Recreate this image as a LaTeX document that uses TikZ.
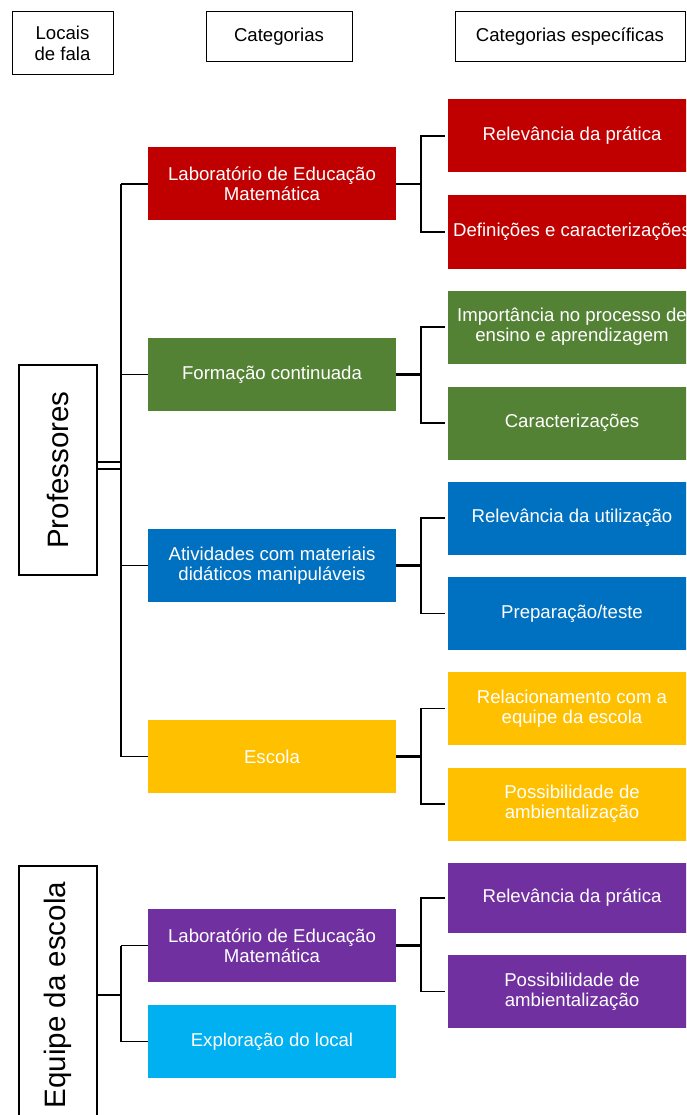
\documentclass[tikz,border=0pt]{standalone}
\usepackage{fontspec}
\setmainfont{Liberation Sans}
\usetikzlibrary{positioning}
\definecolor{cvermelho}{HTML}{C00000}
\definecolor{cverde}{HTML}{548235}
\definecolor{cazul}{HTML}{0070C0}
\definecolor{camarelo}{HTML}{FFC000}
\definecolor{croxo}{HTML}{7030A0}
\definecolor{cciano}{HTML}{00B0F0}
\tikzset{
  cabec/.style={draw, line width=1pt, align=center, inner sep=0pt,
    font=\fontsize{18.6}{21}\selectfont},
  local/.style={draw, line width=1.8pt, rotate=90, inner sep=0pt,
    minimum height=78pt, font=\fontsize{29.5}{32}\selectfont},
  caixa/.style={fill=#1, text=white, align=center, inner sep=0pt,
    minimum width=248pt, minimum height=73pt,
    font=\fontsize{18.6}{20}\selectfont},
  liga/.style={line width=1.5pt},
  tronco/.style={line width=2.3pt},
}
\begin{document}
\begin{tikzpicture}[x=1pt,y=-1pt]
        \useasboundingbox (0,0) rectangle (686,1115);
        \clip (0,0) rectangle (686,1115);
        % 标题框
        \node[cabec, minimum width=101pt, minimum height=63pt] (hloc) at (62.5,43.5) {Locais\\de fala};
        \node[cabec, minimum width=146pt, minimum height=50pt] (hcat) at (279,37) {Categorias};
        \node[cabec, minimum width=230pt, minimum height=50pt] (hesp) at (570,37) {Categorias específicas};
        % 左侧框
        \node[local, minimum width=210pt] (prof) at (58,470) {Professores};
        \node[local, minimum width=258pt] (equi) at (58,995) {Equipe da escola};
        % 分类
        \node[caixa=cvermelho] (lem) at (272,184) {Laboratório de Educação\\Matemática};
        \node[caixa=cverde] (form) at (272,374.5) {Formação continuada};
        \node[caixa=cazul] (ativ) at (272,565.5) {Atividades com materiais\\didáticos manipuláveis};
        \node[caixa=camarelo] (esc) at (272,756.5) {Escola};
        \node[caixa=croxo] (lemb) at (272,945.5) {Laboratório de Educação\\Matemática};
        \node[caixa=cciano] (expl) at (272,1041.5) {Exploração do local};
        % 具体分类
        \node[caixa=cvermelho] (rp) at (572,136) {Relevância da prática};
        \node[caixa=cvermelho] (dc) at (572,232) {Definições e caracterizações};
        \node[caixa=cverde] (ip) at (572,327) {Importância no processo de\\ensino e aprendizagem};
        \node[caixa=cverde] (ca) at (572,423) {Caracterizações};
        \node[caixa=cazul] (ru) at (572,518) {Relevância da utilização};
        \node[caixa=cazul] (pt) at (572,613.5) {Preparação/teste};
        \node[caixa=camarelo] (rc) at (572,708.5) {Relacionamento com a\\equipe da escola};
        \node[caixa=camarelo] (pa) at (572,804) {Possibilidade de\\ambientalização};
        \node[caixa=croxo, minimum height=70pt] (rpb) at (572,898) {Relevância da prática};
        \node[caixa=croxo] (pab) at (572,991.5) {Possibilidade de\\ambientalização};
        % 左侧连线
        \draw[liga] (prof.south) ++(0,-8) -- ++(24,0);
        \draw[liga] (prof.south) ++(0,-1) -- ++(24,0);
        \draw[liga] ([xshift=-27pt]lem.west) -- ([xshift=-27pt]esc.west);
        \foreach \c in {lem,form,ativ,esc,lemb,expl}
          \draw[liga] (\c.west) -- ++(-27,0);
        \draw[tronco] (equi.south) -- ++(24,0);
        \draw[liga] ([xshift=-27pt]lemb.west) -- ([xshift=-27pt]expl.west);
        % 右侧连线
        \foreach \c/\a/\b in {lem/rp/dc, form/ip/ca, ativ/ru/pt, esc/rc/pa, lemb/rpb/pab}{
          \draw[tronco] (\c.east) -- ++(25,0) coordinate (j);
          \draw[liga] ([xshift=-3pt]\a.west) -| (j) |- ([xshift=-3pt]\b.west);
        }
\end{tikzpicture}
\end{document}
